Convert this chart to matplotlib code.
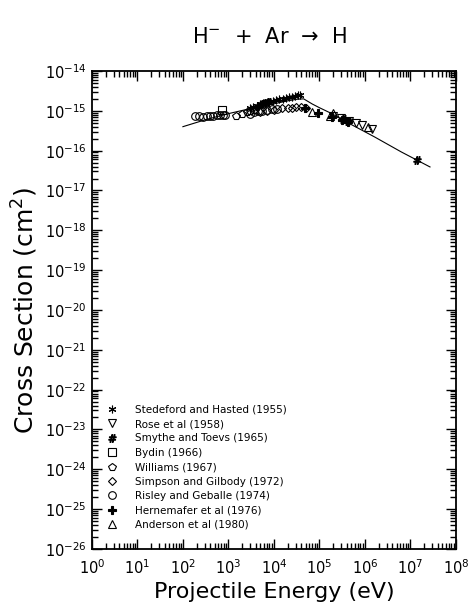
import numpy as np
import matplotlib
matplotlib.use("Agg")
import matplotlib.pyplot as plt
from matplotlib.ticker import LogLocator, NullFormatter

plt.rcParams['font.family'] = ['DejaVu Sans']
plt.rcParams['mathtext.default'] = 'regular'

# Datensaetze
stedeford_E = [3000, 3500, 4200, 5000, 5800, 6800, 8000, 9500, 11000, 13000, 15500, 18000, 21000, 25000, 29000, 34000, 38000]
stedeford_s = [1.15e-15, 1.25e-15, 1.35e-15, 1.45e-15, 1.55e-15, 1.6e-15, 1.7e-15, 1.8e-15, 1.85e-15, 1.95e-15, 2.0e-15, 2.1e-15, 2.2e-15, 2.25e-15, 2.35e-15, 2.45e-15, 2.5e-15]

rose_E = [2.0e5, 3.0e5, 4.5e5, 6.5e5, 8.5e5, 1.4e6]
rose_s = [7.5e-16, 6.5e-16, 5.6e-16, 4.9e-16, 4.4e-16, 3.6e-16]

smythe_E = [4500, 5500, 6500, 7500, 3.3e5, 4.2e5, 1.4e7]
smythe_s = [1.35e-15, 1.5e-15, 1.6e-15, 1.7e-15, 6.4e-16, 5.7e-16, 5.7e-17]

bydin_E = [720]
bydin_s = [1.02e-15]

williams_E = [1500, 2000, 2500, 3000, 3600]
williams_s = [7.5e-16, 8.3e-16, 9.2e-16, 1.0e-15, 1.05e-15]

simpson_E = [5000, 7000, 1.0e4, 1.5e4, 2.0e4, 2.5e4, 3.0e4, 4.0e4, 5.0e4]
simpson_s = [9.5e-16, 1.0e-15, 1.05e-15, 1.15e-15, 1.2e-15, 1.2e-15, 1.25e-15, 1.25e-15, 1.2e-15]

risley_E = [180, 230, 280, 340, 400, 470, 550, 640, 750, 850, 3000, 3600, 4500, 5500, 7000, 9000, 12000]
risley_s = [7.6e-16, 7.4e-16, 7.2e-16, 7.3e-16, 7.5e-16, 7.6e-16, 7.7e-16, 7.8e-16, 7.9e-16, 8.0e-16, 8.5e-16, 9.2e-16, 9.8e-16, 1.0e-15, 1.05e-15, 1.1e-15, 1.1e-15]

hernemafer_E = [4.8e4, 9.3e4, 1.9e5, 3.2e5, 4.2e5]
hernemafer_s = [1.17e-15, 8.8e-16, 7.0e-16, 5.9e-16, 5.2e-16]

anderson_E = [6.9e4, 1.7e5, 2.0e5, 1.2e6]
anderson_s = [9.3e-16, 7.4e-16, 8.8e-16, 3.9e-16]

# Ausgleichskurve
fit_E = [1e2, 3.16e2, 1e3, 3.16e3, 1e4, 2e4, 3.16e4, 4.5e4, 7e4, 1e5, 1.8e5, 4e5, 1.6e6, 6.3e6, 2.7e7]
fit_s = [4.0e-16, 6.0e-16, 8.5e-16, 1.15e-15, 1.5e-15, 1.78e-15, 1.95e-15, 2.0e-15, 1.48e-15, 1.2e-15, 8.7e-16, 5.2e-16, 2.24e-16, 9.3e-17, 3.9e-17]

series = [
    (stedeford_E, stedeford_s, (6, 2, 0), 'Stedeford and Hasted (1955)', 'full'),
    (rose_E, rose_s, 'v', 'Rose et al (1958)', 'none'),
    (smythe_E, smythe_s, r'$\#$', 'Smythe and Toevs (1965)', 'full'),
    (bydin_E, bydin_s, 's', 'Bydin (1966)', 'none'),
    (williams_E, williams_s, 'p', 'Williams (1967)', 'none'),
    (simpson_E, simpson_s, 'D', 'Simpson and Gilbody (1972)', 'none'),
    (risley_E, risley_s, 'o', 'Risley and Geballe (1974)', 'none'),
    (hernemafer_E, hernemafer_s, 'P', 'Hernemafer et al (1976)', 'full'),
    (anderson_E, anderson_s, '^', 'Anderson et al (1980)', 'none'),
]

fig = plt.figure(figsize=(4.69, 6.11), dpi=100)
ax = fig.add_axes([0.196, 0.1015, 0.776, 0.7823])

ax.plot(fit_E, fit_s, '-', color='black', lw=0.8)

for E, s, m, lab, fill in series:
    size = 5.5 if m != 'D' else 4.5
    if fill == 'none':
        ax.plot(E, s, linestyle='None', marker=m, markersize=size, markerfacecolor='none',
                markeredgecolor='black', markeredgewidth=0.8, label=lab)
    else:
        ax.plot(E, s, linestyle='None', marker=m, markersize=size, color='black',
                markeredgewidth=0.8, label=lab)

ax.set_xscale('log')
ax.set_yscale('log')
ax.set_xlim(1e0, 1e8)
ax.set_ylim(1e-26, 1e-14)

ax.xaxis.set_major_locator(LogLocator(base=10, numticks=20))
ax.yaxis.set_major_locator(LogLocator(base=10, numticks=20))
ax.xaxis.set_minor_locator(LogLocator(base=10, subs=np.arange(2, 10), numticks=200))
ax.yaxis.set_minor_locator(LogLocator(base=10, subs=np.arange(2, 10), numticks=200))
ax.xaxis.set_minor_formatter(NullFormatter())
ax.yaxis.set_minor_formatter(NullFormatter())

ax.tick_params(which='both', direction='in', top=True, right=True, width=1.0)
ax.tick_params(which='major', length=7.5, labelsize=10.5)
ax.tick_params(axis='x', which='major', pad=7)
ax.tick_params(axis='y', which='major', pad=4)
ax.tick_params(which='minor', length=4)
for sp in ax.spines.values():
    sp.set_linewidth(1.3)

ax.set_xlabel('Projectile Energy (eV)', fontsize=16, labelpad=3)
ax.set_ylabel('Cross Section (cm$^{2}$)', fontsize=18, labelpad=3)
fig.text(0.575, 0.94, 'H$^{-}$  +  Ar  →  H', ha='center', va='center', fontsize=15)

ax.legend(loc='lower left', bbox_to_anchor=(0.02, 0.025), frameon=False, fontsize=7.5,
          handlelength=1.0, handletextpad=1.7, labelspacing=0.42, borderpad=0.2)

plt.savefig('out.png', dpi=100)
plt.close()
